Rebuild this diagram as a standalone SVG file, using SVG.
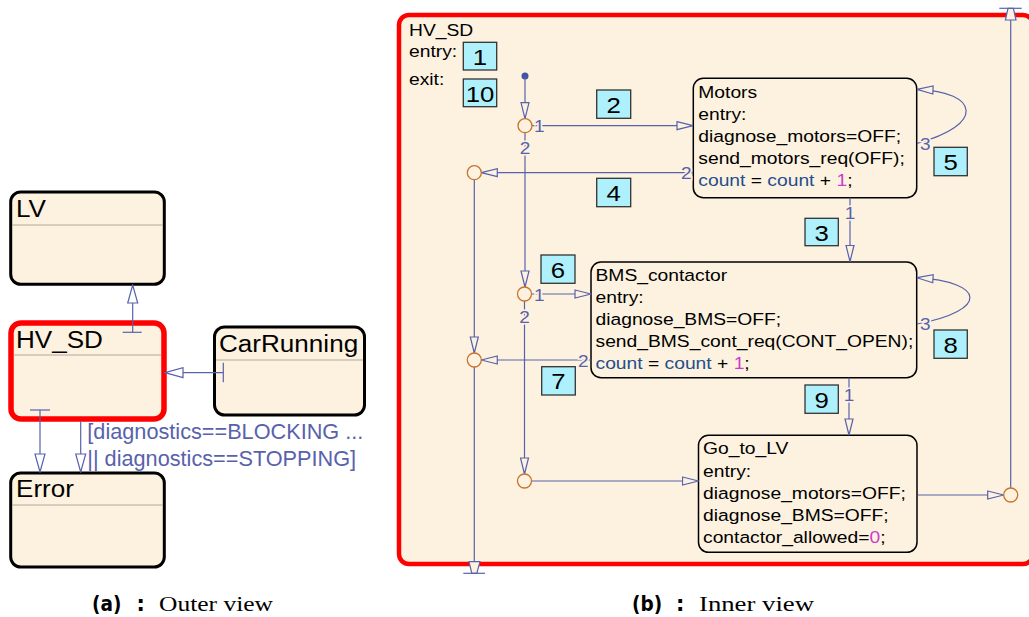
<svg xmlns="http://www.w3.org/2000/svg" width="1029" height="617" viewBox="0 0 1029 617">
  <style>
    .state { fill: #fdf2df; stroke: #000; stroke-width: 3; }
    .sub { fill: #fdf2df; stroke: #000; stroke-width: 1.5; }
    .active { fill: #fdf2df; stroke: #ff0000; stroke-width: 5.5; }
    .div { stroke: #b4a898; stroke-width: 1; }
    .tr { fill: none; stroke: #5862ac; stroke-width: 1.2; }
    .junc { fill: #fdf2df; stroke: #c8742e; stroke-width: 1.3; }
    .num { fill: #aef0fb; stroke: #333; stroke-width: 1.3; }
    text { font-family: "Liberation Sans", Arial, sans-serif; fill: #000; }
    .big { font-size: 23.3px; }
    .body { font-size: 17.2px; }
    .nt { font-size: 23px; text-anchor: middle; }
    .tl { font-size: 17px; fill: #5862ac; paint-order: stroke; stroke: #fdf2df; stroke-width: 3px; }
    .glbl { font-size: 21.7px; fill: #5862ac; }
    .var { fill: #1f4f8c; }
    .lit { fill: #cc3ccc; }
    .capb { font-family: "DejaVu Sans", sans-serif; font-weight: bold; font-size: 21px; }
    .caps { font-family: "Liberation Serif", "Times New Roman", serif; font-size: 21.5px; }
  </style>
  <defs>
    <marker id="openOuter" viewBox="0 0 20 12" refX="19" refY="6" markerWidth="20" markerHeight="12" markerUnits="userSpaceOnUse" orient="auto">
      <path d="M1,1 L19,6 L1,11 Z" fill="#fff" stroke="#5862ac" stroke-width="1.2"/>
    </marker>
    <marker id="openInner" viewBox="0 0 18 10" refX="17" refY="5" markerWidth="18" markerHeight="10" markerUnits="userSpaceOnUse" orient="auto">
      <path d="M1,1 L17,5 L1,9 Z" fill="#fdf2df" stroke="#5862ac" stroke-width="1.2"/>
    </marker>
  </defs>

  <rect width="1029" height="617" fill="#fff"/>

  <!-- ===== Outer view ===== -->
  <g id="LV">
    <rect class="state" x="10.7" y="192" width="153.6" height="92.3" rx="10"/>
    <line class="div" x1="12" y1="225" x2="163" y2="225"/>
    <text class="big" transform="translate(16 217.3) scale(1.12 1)">LV</text>
  </g>
  <g id="HV_SD_outer">
    <rect class="active" x="11" y="323" width="153" height="96" rx="10"/>
    <line class="div" x1="14" y1="355" x2="161" y2="355"/>
    <text class="big" transform="translate(16 348.3) scale(1.12 1)">HV_SD</text>
  </g>
  <g id="CarRunning">
    <rect class="state" x="214.5" y="327" width="150" height="88" rx="10"/>
    <line class="div" x1="216" y1="360" x2="363" y2="360"/>
    <text class="big" transform="translate(219 351.7) scale(1.12 1)">CarRunning</text>
  </g>
  <g id="Error">
    <rect class="state" x="10.7" y="473" width="153.6" height="94" rx="10"/>
    <line class="div" x1="12" y1="505" x2="163" y2="505"/>
    <text class="big" transform="translate(16 497.3) scale(1.12 1)">Error</text>
  </g>

  <g id="outer-transitions">
    <!-- HV_SD to LV -->
    <line class="tr" x1="132.7" y1="332.3" x2="132.7" y2="285" marker-end="url(#openOuter)"/>
    <line class="tr" x1="122.7" y1="332.3" x2="141.7" y2="332.3"/>
    <!-- CarRunning to HV_SD -->
    <line class="tr" x1="223.3" y1="372.7" x2="165" y2="372.7" marker-end="url(#openOuter)"/>
    <line class="tr" x1="223.3" y1="362.7" x2="223.3" y2="382.3"/>
    <!-- HV_SD to Error -->
    <line class="tr" x1="40" y1="410" x2="40" y2="472" marker-end="url(#openOuter)"/>
    <line class="tr" x1="30" y1="410" x2="50" y2="410"/>
    <line class="tr" x1="80.7" y1="421" x2="80.7" y2="472" marker-end="url(#openOuter)"/>
    <text class="glbl" x="87.3" y="439.3">[diagnostics==BLOCKING ...</text>
    <text class="glbl" x="87.3" y="466">|| diagnostics==STOPPING]</text>
  </g>

  <!-- ===== Inner view ===== -->
  <g id="HV_SD_inner">
    <rect class="active" x="399" y="15" width="634" height="549" rx="10" style="stroke-width:4.5"/>
    <text class="body" transform="translate(409 36) scale(1.12 1)">HV_SD</text>
    <text class="body" transform="translate(409 56.7) scale(1.12 1)">entry:</text>
    <text class="body" transform="translate(409 85) scale(1.12 1)">exit:</text>
    <rect class="num" x="463.3" y="42.3" width="33.4" height="27.7"/>
    <text class="nt" transform="translate(480 65) scale(1.12 1)">1</text>
    <rect class="num" x="463.3" y="79" width="33.4" height="27.7"/>
    <text class="nt" transform="translate(480 101.7) scale(1.12 1)">10</text>
  </g>

  <g id="Motors">
    <rect class="sub" x="693.3" y="78.3" width="223.4" height="119.4" rx="10"/>
    <text class="body" transform="translate(698.3 97.5) scale(1.12 1)">
      <tspan x="0" y="0">Motors</tspan>
      <tspan x="0" y="22.2">entry:</tspan>
      <tspan x="0" y="44.4">diagnose_motors=OFF;</tspan>
      <tspan x="0" y="66.6">send_motors_req(OFF);</tspan>
      <tspan x="0" y="88.8"><tspan class="var">count</tspan> = <tspan class="var">count</tspan> + <tspan class="lit">1</tspan>;</tspan>
    </text>
  </g>

  <g id="BMS_contactor">
    <rect class="sub" x="591" y="262" width="325.7" height="115.7" rx="10"/>
    <text class="body" transform="translate(595.5 280.7) scale(1.12 1)">
      <tspan x="0" y="0">BMS_contactor</tspan>
      <tspan x="0" y="22">entry:</tspan>
      <tspan x="0" y="44">diagnose_BMS=OFF;</tspan>
      <tspan x="0" y="66">send_BMS_cont_req(CONT_OPEN);</tspan>
      <tspan x="0" y="88"><tspan class="var">count</tspan> = <tspan class="var">count</tspan> + <tspan class="lit">1</tspan>;</tspan>
    </text>
  </g>

  <g id="Go_to_LV">
    <rect class="sub" x="698.5" y="435.3" width="218.5" height="117" rx="10"/>
    <text class="body" transform="translate(703 454.3) scale(1.12 1)">
      <tspan x="0" y="0">Go_to_LV</tspan>
      <tspan x="0" y="22.3">entry:</tspan>
      <tspan x="0" y="44.6">diagnose_motors=OFF;</tspan>
      <tspan x="0" y="66.9">diagnose_BMS=OFF;</tspan>
      <tspan x="0" y="89.2">contactor_allowed=<tspan class="lit">0</tspan>;</tspan>
    </text>
  </g>

  <g id="inner-transitions">
    <!-- default transition -->
    <circle cx="525" cy="76" r="3.5" fill="#4352a4"/>
    <line class="tr" x1="525" y1="76" x2="525" y2="118.7" marker-end="url(#openInner)"/>
    <!-- trunk from first junction -->
    <line class="tr" x1="525" y1="132.7" x2="525" y2="287" marker-end="url(#openInner)"/>
    <line class="tr" x1="524.5" y1="301" x2="524.5" y2="474" marker-end="url(#openInner)"/>
    <!-- junction 1 to Motors -->
    <line class="tr" x1="532" y1="125.7" x2="693" y2="125.7" marker-end="url(#openInner)"/>
    <!-- Motors to left junction -->
    <line class="tr" x1="693" y1="172.7" x2="481.3" y2="172.7" marker-end="url(#openInner)"/>
    <!-- left trunk -->
    <line class="tr" x1="474.3" y1="179.7" x2="474.3" y2="353" marker-end="url(#openInner)"/>
    <line class="tr" x1="474.3" y1="367" x2="474.3" y2="573.3"/>
    <polygon points="469,561.7 480,561.7 476.8,573.3 471.8,573.3" fill="#fdf2df" stroke="#5862ac" stroke-width="1.2"/>
    <line class="tr" x1="463.3" y1="573.3" x2="485" y2="573.3"/>
    <!-- Motors self loop -->
    <path class="tr" d="M917,143.3 C985,125 980,92 917,89.3" marker-end="url(#openInner)"/>
    <!-- Motors to BMS_contactor -->
    <line class="tr" x1="850" y1="197.7" x2="850" y2="261.5" marker-end="url(#openInner)"/>
    <!-- junction 2 to BMS_contactor -->
    <line class="tr" x1="531.5" y1="294" x2="591" y2="294" marker-end="url(#openInner)"/>
    <!-- BMS_contactor to left junction -->
    <line class="tr" x1="591" y1="360" x2="481.3" y2="360" marker-end="url(#openInner)"/>
    <!-- BMS_contactor self loop -->
    <path class="tr" d="M917,324 C990,310 985,282 917,277.7" marker-end="url(#openInner)"/>
    <!-- BMS_contactor to Go_to_LV -->
    <line class="tr" x1="849" y1="377.7" x2="849" y2="435" marker-end="url(#openInner)"/>
    <!-- bottom junction to Go_to_LV -->
    <line class="tr" x1="531.5" y1="481" x2="698.5" y2="481" marker-end="url(#openInner)"/>
    <!-- Go_to_LV to right junction -->
    <line class="tr" x1="918" y1="495" x2="1003.7" y2="495" marker-end="url(#openInner)"/>
    <!-- right exit -->
    <line class="tr" x1="1010.7" y1="488" x2="1010.7" y2="8.3"/>
    <polygon points="1008,8.3 1013.4,8.3 1016,20 1005.4,20" fill="#fdf2df" stroke="#5862ac" stroke-width="1.2"/>
    <line class="tr" x1="999.3" y1="8.3" x2="1021.7" y2="8.3"/>

    <!-- junctions -->
    <circle class="junc" cx="525" cy="125.7" r="7"/>
    <circle class="junc" cx="474.3" cy="172.7" r="7"/>
    <circle class="junc" cx="524.5" cy="294" r="7"/>
    <circle class="junc" cx="474.3" cy="360" r="7"/>
    <circle class="junc" cx="524.5" cy="481" r="7"/>
    <circle class="junc" cx="1010.7" cy="495" r="7"/>

    <!-- execution order labels -->
    <text class="tl" transform="translate(534 132) scale(1.12 1)">1</text>
    <text class="tl" transform="translate(525 154) scale(1.12 1)" text-anchor="middle">2</text>
    <text class="tl" transform="translate(681 178.5) scale(1.12 1)">2</text>
    <text class="tl" transform="translate(920 150) scale(1.12 1)">3</text>
    <text class="tl" transform="translate(850 219) scale(1.12 1)" text-anchor="middle">1</text>
    <text class="tl" transform="translate(534 300.7) scale(1.12 1)">1</text>
    <text class="tl" transform="translate(524.5 322.7) scale(1.12 1)" text-anchor="middle">2</text>
    <text class="tl" transform="translate(578 367) scale(1.12 1)">2</text>
    <text class="tl" transform="translate(920 330) scale(1.12 1)">3</text>
    <text class="tl" transform="translate(849 400.7) scale(1.12 1)" text-anchor="middle">1</text>
  </g>

  <g id="transition-actions">
    <rect class="num" x="596.7" y="90" width="34" height="28.3"/>
    <text class="nt" transform="translate(613.7 112.7) scale(1.12 1)">2</text>
    <rect class="num" x="596.7" y="178.3" width="34" height="28.4"/>
    <text class="nt" transform="translate(613.7 201) scale(1.12 1)">4</text>
    <rect class="num" x="934" y="147.3" width="33.3" height="28.4"/>
    <text class="nt" transform="translate(950.7 170) scale(1.12 1)">5</text>
    <rect class="num" x="805" y="218.3" width="33.3" height="27.4"/>
    <text class="nt" transform="translate(821.7 240.5) scale(1.12 1)">3</text>
    <rect class="num" x="541" y="255" width="34" height="28.3"/>
    <text class="nt" transform="translate(558 277.7) scale(1.12 1)">6</text>
    <rect class="num" x="541.7" y="366.7" width="33.6" height="28.3"/>
    <text class="nt" transform="translate(558.5 389.3) scale(1.12 1)">7</text>
    <rect class="num" x="934" y="330" width="33.3" height="28.3"/>
    <text class="nt" transform="translate(950.7 352.7) scale(1.12 1)">8</text>
    <rect class="num" x="805" y="385" width="33.3" height="28.3"/>
    <text class="nt" transform="translate(821.7 407.7) scale(1.12 1)">9</text>
  </g>

  <!-- captions -->
  <g id="captions">
    <text class="capb" transform="translate(92 611) scale(0.88 1)">(a)</text>
    <text class="capb" x="136.5" y="611">:</text>
    <text class="caps" x="159" y="611" textLength="114" lengthAdjust="spacingAndGlyphs">Outer view</text>
    <text class="capb" transform="translate(632 611) scale(0.88 1)">(b)</text>
    <text class="capb" x="676" y="611">:</text>
    <text class="caps" x="699" y="611" textLength="115" lengthAdjust="spacingAndGlyphs">Inner view</text>
  </g>
</svg>
